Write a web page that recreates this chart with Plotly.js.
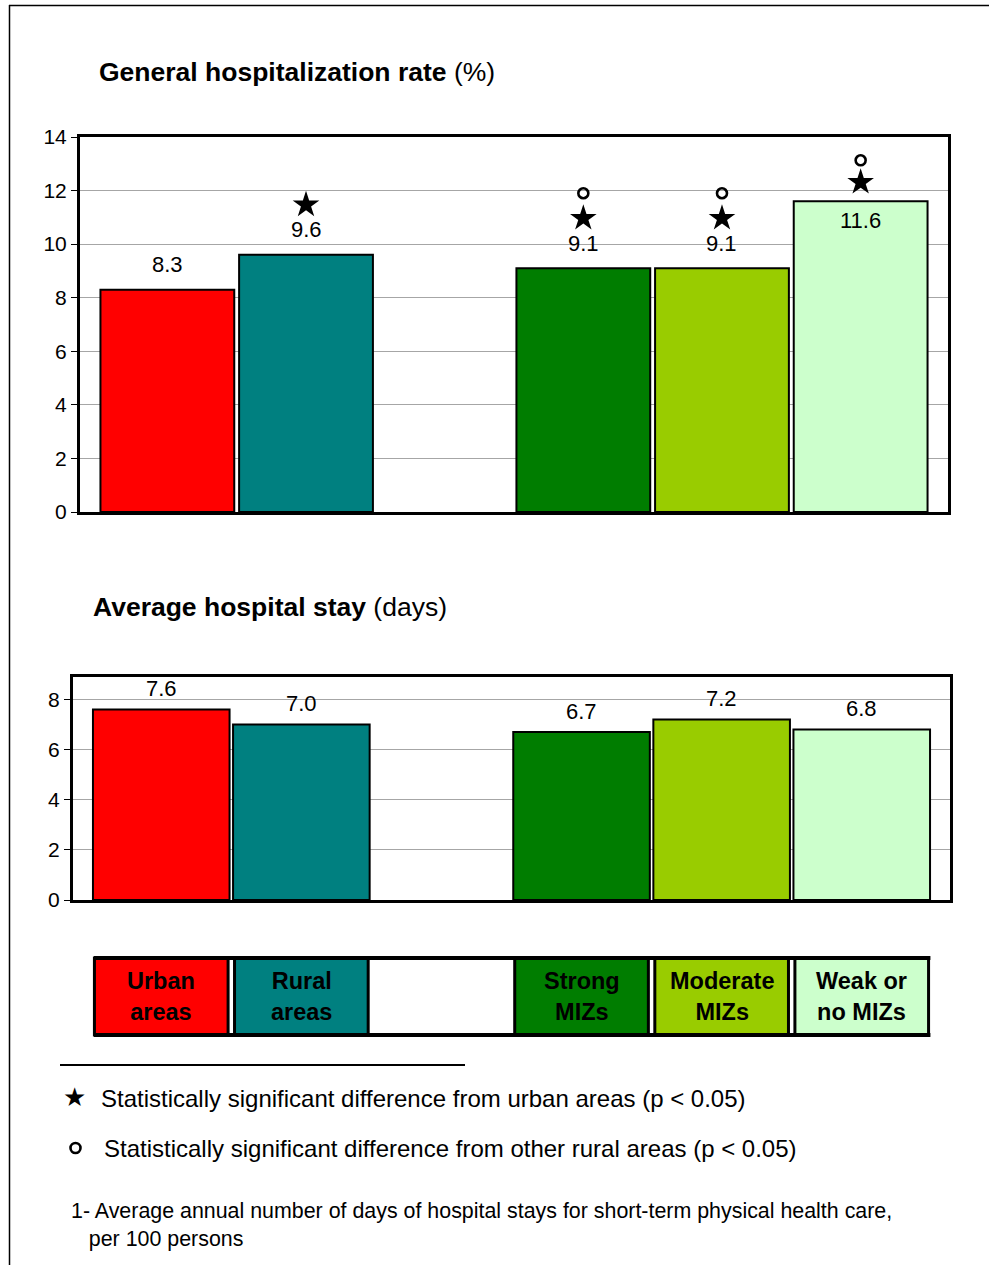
<!DOCTYPE html>
<html>
<head>
<meta charset="utf-8">
<script src="https://cdn.plot.ly/plotly-3.0.1.min.js"></script>
<style>
  html, body { margin: 0; padding: 0; background: #ffffff; }
  #chart { width: 989px; height: 1265px; }
</style>
</head>
<body>
<div id="chart"></div>
<script>
// Area types; the empty slot separates the urban/rural pair from the MIZ breakdown
const categories = ['Urban areas', 'Rural areas', '', 'Strong MIZs', 'Moderate MIZs', 'Weak or no MIZs'];
const legendLabels = ['Urban<br>areas', 'Rural<br>areas', '', 'Strong<br>MIZs', 'Moderate<br>MIZs', 'Weak or<br>no MIZs'];
const barColors = ['#FF0000', '#008080', '#ffffff', '#007D00', '#99CC00', '#CCFFCC'];

// General hospitalization rate (%)
const hospRate = [8.3, 9.6, null, 9.1, 9.1, 11.6];
// Average hospital stay (days)
const hospStay = [7.6, 7.0, null, 6.7, 7.2, 6.8];

// Significance flags for the hospitalization rate
const diffFromUrban = [false, true, false, true, true, true];       // star
const diffFromOtherRural = [false, false, false, true, true, true]; // open circle

const W = 989, H = 1265;
const px = x => x / W;
const py = y => 1 - y / H;

const FONT = 'Liberation Sans, Arial, sans-serif';

// plot boxes (pixels)
const top1 = 137, bot1 = 512, left1 = 80, right1 = 948;
const top2 = 677, bot2 = 900, left2 = 73, right2 = 950;
const yMax1 = 14, yMax2 = 8.9;
const pxPerUnit1 = (bot1 - top1) / yMax1;

const idx = categories.map((_, i) => i);
const xr = [-0.63, 5.63];

const traces = [
  {
    type: 'bar', x: idx, y: hospRate, xaxis: 'x', yaxis: 'y',
    width: 0.965,
    marker: { color: barColors, line: { color: '#000000', width: 2 } },
    hoverinfo: 'skip', showlegend: false
  },
  {
    type: 'bar', x: idx, y: hospStay, xaxis: 'x2', yaxis: 'y2',
    width: 0.975,
    marker: { color: barColors, line: { color: '#000000', width: 2 } },
    hoverinfo: 'skip', showlegend: false
  }
];

// value label goes inside the bar when there is no room above it
const labelInside = v => v > 11;

// significance markers stacked above each flagged bar
const starX = [], starY = [], circX = [], circY = [];
hospRate.forEach((v, i) => {
  if (v === null) return;
  const inside = labelInside(v);
  if (diffFromUrban[i]) { starX.push(i); starY.push(v + (inside ? 19 : 50) / pxPerUnit1); }
  if (diffFromOtherRural[i]) { circX.push(i); circY.push(v + (inside ? 41 : 75) / pxPerUnit1); }
});
traces.push({
  type: 'scatter', mode: 'markers', x: starX, y: starY, xaxis: 'x', yaxis: 'y',
  marker: { symbol: 'star', size: 20, color: '#000000', line: { width: 0 } },
  hoverinfo: 'skip', showlegend: false
});
traces.push({
  type: 'scatter', mode: 'markers', x: circX, y: circY, xaxis: 'x', yaxis: 'y',
  marker: { symbol: 'circle-open', size: 10, color: '#000000', line: { width: 2.6, color: '#000000' } },
  hoverinfo: 'skip', showlegend: false
});

const annotations = [];
hospRate.forEach((v, i) => {
  if (v === null) return;
  annotations.push({
    xref: 'x', yref: 'y', x: i, y: v, text: v.toFixed(1), showarrow: false,
    yshift: labelInside(v) ? -19 : 25,
    font: { family: FONT, size: 22, color: '#000000' }
  });
});
hospStay.forEach((v, i) => {
  if (v === null) return;
  annotations.push({
    xref: 'x2', yref: 'y2', x: i, y: v, text: v.toFixed(1), showarrow: false,
    yshift: 21,
    font: { family: FONT, size: 22, color: '#000000' }
  });
});

// panel titles
annotations.push({
  xref: 'paper', yref: 'paper', x: px(97), y: py(72), xanchor: 'left', yanchor: 'middle',
  text: '<b>General hospitalization rate</b> (%)', showarrow: false,
  font: { family: FONT, size: 26.5, color: '#000000' }
});
annotations.push({
  xref: 'paper', yref: 'paper', x: px(91), y: py(607), xanchor: 'left', yanchor: 'middle',
  text: '<b>Average hospital stay</b> (days)', showarrow: false,
  font: { family: FONT, size: 26.5, color: '#000000' }
});

// colour key labels
legendLabels.forEach((t, i) => {
  if (!t) return;
  annotations.push({
    xref: 'x2', yref: 'paper', x: i, y: py(996), yanchor: 'middle',
    text: '<b>' + t + '</b>', showarrow: false,
    font: { family: FONT, size: 23.5, color: '#000000' }
  });
});

// significance notes and footnote
annotations.push({
  xref: 'paper', yref: 'paper', x: px(61), y: py(1097), xanchor: 'left', yanchor: 'middle',
  text: '★', showarrow: false, font: { family: 'DejaVu Sans', size: 26, color: '#000000' }
});
annotations.push({
  xref: 'paper', yref: 'paper', x: px(99), y: py(1098), xanchor: 'left', yanchor: 'middle',
  text: 'Statistically significant difference from urban areas (p < 0.05)', showarrow: false,
  font: { family: FONT, size: 24, color: '#000000' }
});
annotations.push({
  xref: 'paper', yref: 'paper', x: px(102), y: py(1148), xanchor: 'left', yanchor: 'middle',
  text: 'Statistically significant difference from other rural areas (p < 0.05)', showarrow: false,
  font: { family: FONT, size: 24, color: '#000000' }
});
annotations.push({
  xref: 'paper', yref: 'paper', x: px(69), y: py(1225), xanchor: 'left', yanchor: 'middle', align: 'left',
  text: '1- Average annual number of days of hospital stays for short-term physical health care,<br>   per 100 persons',
  showarrow: false,
  font: { family: FONT, size: 21.4, color: '#000000' }
});

const shapes = [];
// outer frame (left and top edges)
shapes.push({ type: 'line', xref: 'paper', yref: 'paper', x0: px(9.5), x1: px(9.5), y0: py(5), y1: 0,
  line: { color: '#000000', width: 1.5 } });
shapes.push({ type: 'line', xref: 'paper', yref: 'paper', x0: px(9), x1: 1, y0: py(5.5), y1: py(5.5),
  line: { color: '#000000', width: 1.5 } });

// colour key: one framed cell per category, aligned with the lower chart's bars
const keyTop = 958, keyBot = 1035;
barColors.forEach((c, i) => {
  if (!legendLabels[i]) return;
  shapes.push({
    type: 'rect', xref: 'x2', yref: 'paper', x0: i - 0.477, x1: i + 0.477, y0: py(keyBot), y1: py(keyTop),
    fillcolor: c, line: { color: '#000000', width: 3 }, layer: 'above'
  });
});
shapes.push({ type: 'line', xref: 'x2', yref: 'paper', x0: -0.48, x1: 5.49, y0: py(keyTop), y1: py(keyTop),
  line: { color: '#000000', width: 4 } });
shapes.push({ type: 'line', xref: 'x2', yref: 'paper', x0: -0.48, x1: 5.49, y0: py(keyBot), y1: py(keyBot),
  line: { color: '#000000', width: 4 } });

// rule above the notes
shapes.push({ type: 'line', xref: 'paper', yref: 'paper', x0: px(60), x1: px(465), y0: py(1065), y1: py(1065),
  line: { color: '#000000', width: 2 } });

// open circle beside the second note
shapes.push({ type: 'circle', xref: 'paper', yref: 'paper', x0: px(70.5), x1: px(80.5), y0: py(1153), y1: py(1143),
  line: { color: '#000000', width: 2.6 } });

const yAxisCommon = {
  showline: true, mirror: true, linecolor: '#000000', linewidth: 3,
  ticks: 'outside', ticklen: 6, tickwidth: 1, tickcolor: '#000000',
  showgrid: true, gridcolor: '#a6a6a6', gridwidth: 1,
  zeroline: false, fixedrange: true,
  tickfont: { family: FONT, size: 21, color: '#000000' }
};
const xAxisCommon = {
  range: xr, showline: true, mirror: true, linecolor: '#000000', linewidth: 3,
  showticklabels: false, ticks: '', showgrid: false, zeroline: false, fixedrange: true
};

const layout = {
  width: W, height: H,
  margin: { l: 0, r: 0, t: 0, b: 0 },
  paper_bgcolor: '#ffffff', plot_bgcolor: '#ffffff',
  showlegend: false, bargap: 0,
  font: { family: FONT, color: '#000000' },
  xaxis: Object.assign({}, xAxisCommon, { domain: [px(left1), px(right1)], anchor: 'y' }),
  yaxis: Object.assign({}, yAxisCommon, { domain: [py(bot1), py(top1)], range: [0, yMax1], dtick: 2, anchor: 'x' }),
  xaxis2: Object.assign({}, xAxisCommon, { domain: [px(left2), px(right2)], anchor: 'y2' }),
  yaxis2: Object.assign({}, yAxisCommon, { domain: [py(bot2), py(top2)], range: [0, yMax2], dtick: 2, anchor: 'x2' }),
  annotations: annotations,
  shapes: shapes
};

Plotly.newPlot('chart', traces, layout, { staticPlot: true, displayModeBar: false });
</script>
</body>
</html>
